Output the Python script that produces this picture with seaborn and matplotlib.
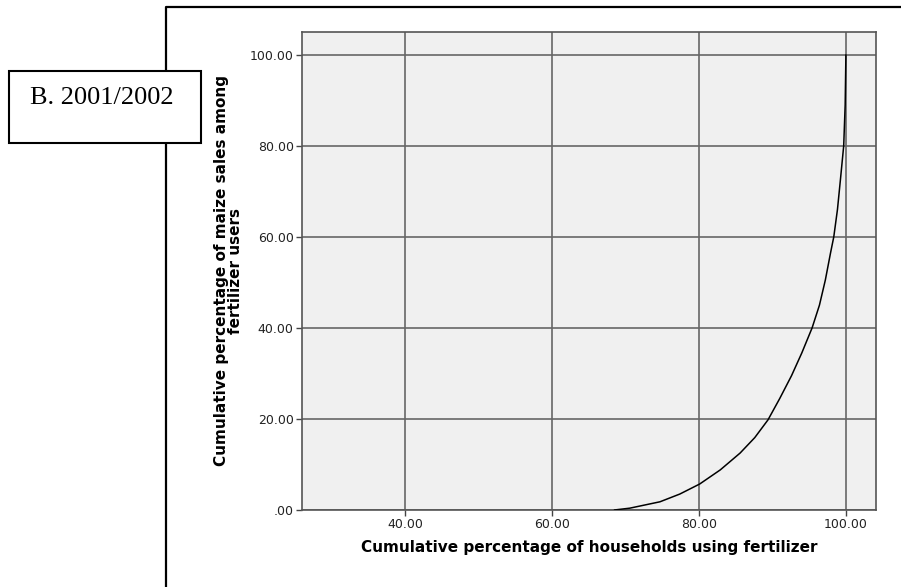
import numpy as np
import pandas as pd
import seaborn as sns
import matplotlib.pyplot as plt
from matplotlib.lines import Line2D
from matplotlib.patches import Rectangle
from matplotlib.ticker import FuncFormatter

# cumulative curve
hh_pct = [68.5, 70.6, 74.7, 77.4, 80.1, 82.9, 85.6, 87.6, 89.4, 91.0,
          92.6, 94.0, 95.4, 96.4, 97.2, 97.9, 98.35, 98.85, 99.25, 99.7,
          99.9, 100.0]
sales_pct = [0.0, 0.4, 1.8, 3.5, 5.7, 8.8, 12.5, 15.9, 19.8, 24.5,
             29.5, 34.5, 40.0, 45.0, 50.5, 56.4, 60.0, 66.0, 72.5, 80.0,
             89.0, 100.0]
x_ticks = [40, 60, 80, 100]
y_ticks = [0, 20, 40, 60, 80, 100]
panel_label = 'B. 2001/2002'

df = pd.DataFrame({'hh': hh_pct, 'sales': sales_pct})

sns.set_style('white')
plt.rcParams['font.family'] = ['DejaVu Sans']

fig = plt.figure(figsize=(9.01, 5.87), dpi=100)
ax = fig.add_axes([0.3352, 0.1312, 0.9723 - 0.3352, 0.9455 - 0.1312])
ax.set_facecolor('#f0f0f0')

sns.lineplot(data=df, x='hh', y='sales', color='black', lw=1.1, sort=False, ax=ax, zorder=3)

ax.set_xlim(26.0, 104.1)
ax.set_ylim(0, 105.0)
ax.set_xticks(x_ticks)
ax.set_yticks(y_ticks)
fmt = FuncFormatter(lambda v, p: '.00' if v == 0 else f'{v:.2f}')
ax.xaxis.set_major_formatter(fmt)
ax.yaxis.set_major_formatter(fmt)

ax.grid(True, color='#666666', lw=1.2, zorder=1)
ax.set_axisbelow(True)
for s in ax.spines.values():
    s.set_color('#555555')
    s.set_linewidth(1.2)

ax.tick_params(axis='both', direction='out', length=4, width=1.0, color='#444444',
               labelsize=9, labelcolor='#222222', pad=2, left=True, bottom=True)

ax.set_xlabel('Cumulative percentage of households using fertilizer',
              fontsize=11, fontweight='bold', labelpad=6, color='black')
ax.set_ylabel('Cumulative percentage of maize sales among\nfertilizer users',
              fontsize=11, fontweight='bold', labelpad=5, linespacing=0.92, color='black')

# outer frame and the panel box
fig.add_artist(Line2D([166 / 901, 166 / 901, 1.0], [0.0, 1 - 7 / 587, 1 - 7 / 587],
                      transform=fig.transFigure, color='black', lw=1.6))
fig.add_artist(Rectangle((9 / 901, 1 - 143 / 587), 192 / 901, 72 / 587,
                         transform=fig.transFigure, facecolor='white',
                         edgecolor='black', lw=1.5, zorder=5))
fig.text(102 / 901, 1 - 98 / 587, panel_label, family='Liberation Serif',
         fontsize=19, ha='center', va='center', color='black', zorder=6)

plt.savefig('out.png', dpi=100)
